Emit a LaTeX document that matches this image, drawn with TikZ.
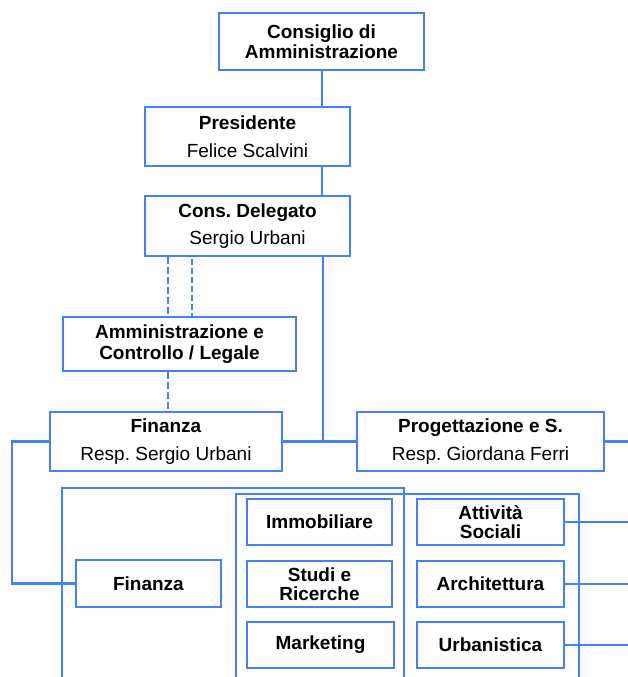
\documentclass[tikz,border=0pt]{standalone}
\usepackage{fontspec}
\setmainfont{Liberation Sans}
\frenchspacing
\definecolor{orgblue}{RGB}{66,130,245}
\begin{document}
\begin{tikzpicture}[x=1pt,y=-1pt,
  box/.style={draw=orgblue,line width=2.2pt,fill=white,rectangle,inner sep=0pt,align=center,
    font=\fontsize{19}{21.5}\selectfont},
  conn/.style={draw=orgblue,line width=2.2pt},
  dthin/.style={draw=orgblue,line width=1.6pt,dash pattern=on 7pt off 3pt},
  dthick/.style={draw=orgblue,line width=2.6pt,dash pattern=on 6pt off 3pt}]
\useasboundingbox (0,0) rectangle (628,677);
% frames (open at bottom)
\draw[conn] (62,690) -- (62,488) -- (404,488) -- (404,690);
\draw[conn] (236,690) -- (236,494) -- (579,494) -- (579,690);
% nodes
\node[box,minimum width=205pt,minimum height=57pt] (cda) at (321.5,41.5) {\textbf{Consiglio di}\\[-2pt]\textbf{Amministrazione}};
\node[box,minimum width=205pt,minimum height=59pt] (pres) at (247.5,136.5) {\textbf{Presidente}\\[6pt]Felice Scalvini};
\node[box,minimum width=205pt,minimum height=60pt] (deleg) at (247.5,226) {\textbf{Cons. Delegato}\\[5pt]Sergio Urbani};
\node[box,minimum width=233pt,minimum height=54pt] (amm) at (179.5,344) {\textbf{Amministrazione e}\\\textbf{Controllo / Legale}};
\node[box,minimum width=232pt,minimum height=59pt] (fin) at (166,441.5) {\textbf{Finanza}\\[6pt]Resp. Sergio Urbani};
\node[box,minimum width=247pt,minimum height=59pt] (prog) at (480.5,441.5) {\textbf{Progettazione e S.}\\[6pt]Resp. Giordana Ferri};
\node[box,minimum width=145pt,minimum height=47pt] (fin2) at (148.5,583.5) {\textbf{Finanza}};
\node[box,minimum width=145pt,minimum height=46pt] (immo) at (319.5,522) {\textbf{Immobiliare}};
\node[box,minimum width=145pt,minimum height=46pt] (studi) at (319.5,584) {\textbf{Studi e}\\[-2pt]\textbf{Ricerche}};
\node[box,minimum width=147pt,minimum height=46pt] (mkt) at (320.5,645) {\textbf{Marketing}};
\node[box,minimum width=147pt,minimum height=46pt] (att) at (490.5,522) {\textbf{Attività}\\[-2pt]\textbf{Sociali}};
\node[box,minimum width=147pt,minimum height=46pt] (arch) at (490.5,584) {\textbf{Architettura}};
\node[box,minimum width=147pt,minimum height=46pt] (urb) at (490.5,645) {\textbf{Urbanistica}};
% coordinates
\coordinate (x1) at (322,0);
\coordinate (j) at (323,441.5);
\coordinate (d1) at (168,0);
\coordinate (d2) at (192,259);
\coordinate (e1) at (628,441.5);
\coordinate (lft) at (12,0);
\coordinate (e2) at (628,522);
\coordinate (e3) at (628,584);
\coordinate (e4) at (628,645);
% connectors
\draw[conn] (cda.south -| x1) -- (pres.north -| x1);
\draw[conn] (pres.south -| x1) -- (deleg.north -| x1);
\draw[conn] (deleg.south -| j) -- (j);
\draw[conn] (fin.east) -- (prog.west);
\draw[conn] (prog.east) -- (e1);
\draw[dthin] (deleg.south -| d1) -- (amm.north -| d1);
\draw[dthick] (d2) -- (amm.north -| d2);
\draw[dthin] (amm.south -| d1) -- (fin.north -| d1);
\draw[conn] (fin.west) -- (fin.west -| lft) -- (fin2.west -| lft) -- (fin2.west);
\draw[conn] (att.east) -- (e2);
\draw[conn] (arch.east) -- (e3);
\draw[conn] (urb.east) -- (e4);
\end{tikzpicture}
\end{document}
